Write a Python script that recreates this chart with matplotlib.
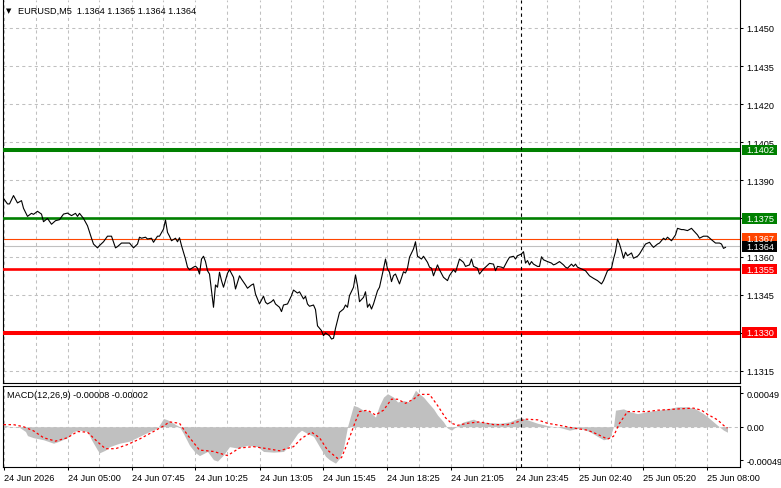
import numpy as np
import matplotlib
matplotlib.use("Agg")
import matplotlib.pyplot as plt
from matplotlib.patches import Rectangle
from matplotlib.transforms import blended_transform_factory

plt.rcParams['font.family'] = ['Liberation Sans', 'DejaVu Sans']

# ---------------- data ----------------
title_text = "EURUSD,M5  1.1364 1.1365 1.1364 1.1364"
macd_text = "MACD(12,26,9) -0.00008 -0.00002"

price_bar = [0, 2, 3, 5, 7, 9, 10, 12, 14, 15,
             17, 19, 20, 22, 24, 26, 28, 30, 32, 34,
             36, 37, 38, 40, 42, 44, 45, 47, 48, 50,
             52, 54, 56, 57, 59, 63, 65, 67, 68, 69,
             71, 72, 74, 75, 77, 78, 80, 81, 82, 83,
             84, 86, 87, 88, 89, 91, 92, 93, 95, 96,
             97, 98, 99, 100, 101, 102, 103, 105, 106, 107,
             108, 109, 110, 112, 113, 115, 116, 118, 119, 121,
             122, 124, 125, 126, 128, 130, 131, 132, 134, 135,
             136, 138, 139, 140, 142, 144, 145, 147, 148, 150,
             151, 152, 153, 155, 156, 157, 159, 160, 161, 163,
             164, 165, 166, 168, 170, 171, 172, 173, 175, 176,
             177, 178, 180, 181, 182, 183, 184, 185, 187, 188,
             190, 191, 192, 193, 194, 195, 196, 198, 200, 201,
             202, 203, 205, 206, 207, 209, 210, 212, 213, 214,
             215, 217, 218, 220, 222, 223, 225, 226, 228, 230,
             231, 233, 234, 235, 237, 238, 240, 241, 243, 245,
             246, 247, 249, 250, 252, 253, 255, 256, 257, 259,
             260, 261, 262, 263, 264, 265, 267, 268, 269, 270,
             272, 274, 275, 276, 278, 280, 281, 282, 284, 285,
             286, 287, 289, 291, 293, 295, 297, 299, 300, 301,
             302, 304, 305, 306, 307, 308, 309, 310, 311, 312,
             314, 315, 317, 318, 320, 321, 323, 324, 325, 327,
             328, 330, 331, 332, 334, 336, 337, 339, 340, 342,
             344, 345, 347, 348, 350, 352, 354, 356, 358, 359,
             360, 361]

price_close = [1.13829, 1.13807, 1.13807, 1.13840, 1.13811, 1.13820, 1.13790, 1.13758, 1.13770, 1.13766,
               1.13778, 1.13767, 1.13737, 1.13750, 1.13727, 1.13741, 1.13745, 1.13767, 1.13771, 1.13761,
               1.13770, 1.13758, 1.13770, 1.13750, 1.13721, 1.13672, 1.13649, 1.13634, 1.13643, 1.13658,
               1.13680, 1.13680, 1.13634, 1.13639, 1.13653, 1.13653, 1.13634, 1.13649, 1.13676, 1.13672,
               1.13676, 1.13669, 1.13672, 1.13656, 1.13680, 1.13680, 1.13708, 1.13744, 1.13695, 1.13680,
               1.13662, 1.13672, 1.13658, 1.13674, 1.13643, 1.13590, 1.13558, 1.13548, 1.13558, 1.13562,
               1.13554, 1.13531, 1.13590, 1.13601, 1.13580, 1.13544, 1.13531, 1.13400, 1.13488, 1.13479,
               1.13538, 1.13505, 1.13479, 1.13534, 1.13548, 1.13518, 1.13472, 1.13524, 1.13511, 1.13488,
               1.13475, 1.13488, 1.13492, 1.13452, 1.13413, 1.13444, 1.13420, 1.13413, 1.13422, 1.13430,
               1.13413, 1.13400, 1.13383, 1.13409, 1.13413, 1.13446, 1.13468, 1.13456, 1.13461, 1.13433,
               1.13443, 1.13413, 1.13404, 1.13409, 1.13391, 1.13327, 1.13308, 1.13288, 1.13299, 1.13288,
               1.13275, 1.13278, 1.13317, 1.13380, 1.13393, 1.13409, 1.13400, 1.13446, 1.13479, 1.13527,
               1.13485, 1.13422, 1.13439, 1.13461, 1.13400, 1.13413, 1.13393, 1.13413, 1.13465, 1.13479,
               1.13551, 1.13590, 1.13551, 1.13538, 1.13501, 1.13525, 1.13531, 1.13492, 1.13540, 1.13535,
               1.13554, 1.13597, 1.13630, 1.13658, 1.13601, 1.13590, 1.13601, 1.13577, 1.13558, 1.13554,
               1.13524, 1.13567, 1.13548, 1.13518, 1.13505, 1.13525, 1.13548, 1.13538, 1.13590, 1.13577,
               1.13561, 1.13567, 1.13590, 1.13561, 1.13554, 1.13531, 1.13551, 1.13558, 1.13573, 1.13570,
               1.13544, 1.13561, 1.13558, 1.13554, 1.13584, 1.13597, 1.13601, 1.13590, 1.13603, 1.13610,
               1.13619, 1.13574, 1.13584, 1.13567, 1.13580, 1.13570, 1.13561, 1.13561, 1.13599, 1.13587,
               1.13580, 1.13574, 1.13567, 1.13570, 1.13580, 1.13567, 1.13558, 1.13554, 1.13570, 1.13561,
               1.13570, 1.13558, 1.13551, 1.13544, 1.13524, 1.13514, 1.13505, 1.13492, 1.13505, 1.13524,
               1.13544, 1.13554, 1.13590, 1.13619, 1.13669, 1.13649, 1.13623, 1.13593, 1.13617, 1.13603,
               1.13614, 1.13593, 1.13601, 1.13610, 1.13636, 1.13649, 1.13656, 1.13645, 1.13636, 1.13649,
               1.13653, 1.13672, 1.13666, 1.13676, 1.13662, 1.13685, 1.13711, 1.13706, 1.13706, 1.13702,
               1.13711, 1.13702, 1.13685, 1.13672, 1.13680, 1.13680, 1.13666, 1.13653, 1.13653, 1.13649,
               1.13632, 1.13636]

hist_bar = [0, 3, 8, 11, 12, 15, 20, 25, 27, 32,
            35, 38, 42, 44, 47, 48, 51, 53, 58, 63,
            68, 73, 77, 80, 82, 85, 88, 90, 93, 96,
            98, 102, 105, 107, 110, 113, 117, 122, 127, 130,
            135, 140, 143, 147, 149, 152, 155, 158, 161, 163,
            166, 168, 170, 172, 175, 177, 180, 183, 186, 188,
            190, 192, 195, 197, 200, 203, 206, 207, 210, 212,
            215, 217, 220, 222, 224, 227, 230, 235, 238, 243,
            248, 253, 257, 259, 262, 267, 273, 278, 283, 288,
            293, 297, 300, 303, 305, 306, 310, 313, 317, 322,
            327, 332, 337, 342, 346, 350, 353, 357, 360, 362]
macd_hist = [0.00003, 0.0, -0.00001, -0.00007, -0.00013, -0.00016, -0.00019, -0.00024, -0.00022, -0.00016,
             -0.00007, -0.00005, -0.00007, -0.00019, -0.00034, -0.00038, -0.00034, -0.00029, -0.00024, -0.00021,
             -0.00014, -0.00007, -0.00002, 0.00012, 0.00010, 0.00005, 0.0, -0.00010, -0.00027, -0.00038,
             -0.00042, -0.00036, -0.00048, -0.00050, -0.00041, -0.00029, -0.00031, -0.00027, -0.00029, -0.00036,
             -0.00037, -0.00036, -0.00027, -0.00010, -0.00005, -0.00010, -0.00014, -0.00029, -0.00043, -0.00048,
             -0.00053, -0.00046, -0.00031, 0.0, 0.00031, 0.00029, 0.00024, 0.00022, 0.00014, 0.00031,
             0.00043, 0.00048, 0.00043, 0.00036, 0.00038, 0.00036, 0.00053, 0.00050, 0.00043, 0.00036,
             0.00026, 0.00017, 0.00007, -0.00002, -0.00005, 0.00002, 0.00007, 0.00011, 0.00007, 0.00006,
             0.00005, 0.00007, 0.00012, 0.00013, 0.00010, 0.00005, 0.00001, -0.00001, -0.00005, -0.00002,
             -0.00007, -0.00014, -0.00019, -0.00017, 0.0, 0.00024, 0.00026, 0.00022, 0.00019, 0.00022,
             0.00024, 0.00026, 0.00029, 0.00029, 0.00026, 0.00019, 0.00012, 0.00002, -0.00005, -0.00008]

signal_bar = [0, 5, 10, 15, 20, 26, 32, 37, 42, 47,
              51, 56, 62, 68, 75, 80, 83, 88, 92, 98,
              105, 112, 118, 125, 132, 138, 145, 149, 154, 158,
              162, 167, 169, 172, 176, 178, 182, 186, 190, 194,
              197, 201, 205, 208, 213, 217, 221, 224, 227, 232,
              238, 245, 252, 257, 261, 267, 272, 278, 285, 292,
              297, 302, 305, 308, 312, 317, 322, 327, 333, 338,
              345, 349, 352, 357, 360, 362]
macd_signal = [0.00003, 0.00003, 0.0, -0.00006, -0.00016, -0.00021, -0.00016, -0.00007, -0.00008, -0.00022,
               -0.00032, -0.00032, -0.00026, -0.00018, -0.00007, 0.00001, 0.00007, 0.00005, -0.00012, -0.00034,
               -0.00036, -0.00042, -0.00031, -0.00029, -0.00032, -0.00035, -0.00029, -0.00017, -0.00008, -0.00016,
               -0.00034, -0.00046, -0.00045, -0.00024, 0.00008, 0.00022, 0.00024, 0.00017, 0.00024, 0.00040,
               0.00040, 0.00034, 0.00040, 0.00047, 0.00047, 0.00031, 0.00013, 0.00005, 0.00002, 0.00005,
               0.00007, 0.00003, 0.00003, 0.00007, 0.00011, 0.00010, 0.00005, 0.00002, -0.00002, -0.00005,
               -0.00011, -0.00018, -0.00014, 0.00005, 0.00022, 0.00022, 0.00022, 0.00024, 0.00025, 0.00026,
               0.00027, 0.00024, 0.00018, 0.00010, 0.00002, -0.00002]

green_levels = [1.1402, 1.1375]
red_levels = [1.1355, 1.1330]
ask_level = 1.1367
bid_level = 1.1364
price_ticks = [1.1450, 1.1435, 1.1420, 1.1405, 1.1390, 1.1375, 1.1360, 1.1345, 1.1330, 1.1315]
macd_ticks = [0.00049, 0.0, -0.00049]
macd_tick_labels = ["0.00049", "0.00", "-0.00049"]
time_labels = ["24 Jun 2026", "24 Jun 05:00", "24 Jun 07:45", "24 Jun 10:25",
               "24 Jun 13:05", "24 Jun 15:45", "24 Jun 18:25", "24 Jun 21:05",
               "24 Jun 23:45", "25 Jun 02:40", "25 Jun 05:20", "25 Jun 08:00"]
time_label_bars = [0, 32, 64, 96, 128, 160, 192, 224, 256, 288, 320, 352]
grid_mid_bars = [16, 48, 80, 112, 144, 176, 208, 240, 272, 304, 336]
marker_bar = 259

# ---------------- layout ----------------
W, H = 781, 489
fig = plt.figure(figsize=(W / 100, H / 100), dpi=100)
fig.patch.set_facecolor("white")


def px_rect(x0, y0, x1, y1):
    return [x0 / W, 1 - y1 / H, (x1 - x0) / W, (y1 - y0) / H]


ax = fig.add_axes(px_rect(3, 1, 740, 384))
mx = fig.add_axes(px_rect(3, 387, 740, 468))

FS = 6.6
GRID = "#C0C0C0"
dash = (0, (3, 3))

for a in (ax, mx):
    a.set_xlim(-0.25, 368.25)
    for s in a.spines.values():
        s.set_linewidth(0.8)
        s.set_color("black")
    a.set_xticks(time_label_bars)
    a.set_xticks(grid_mid_bars, minor=True)
    a.grid(axis="x", which="both", color=GRID, linestyle=dash, linewidth=0.75)
    a.yaxis.tick_right()
    a.tick_params(axis="y", direction="out", length=2.3, width=0.75, pad=2.6,
                  labelsize=FS, colors="black")
    a.tick_params(axis="x", which="minor", length=0)
    a.set_axisbelow(True)
ax.spines["top"].set_visible(False)

# main panel
ymin, ymax = 1.131018, 1.146102
ax.set_ylim(ymin, ymax)
ax.set_yticks(price_ticks)
ax.set_yticklabels([f"{v:.4f}" for v in price_ticks])
ax.grid(axis="y", color=GRID, linestyle=dash, linewidth=0.75)
ax.tick_params(axis="x", which="major", length=0, labelbottom=False)

ax.axhline(bid_level, color="#C0C0C0", lw=0.8, zorder=2)
ax.axhline(ask_level, color="#FF4500", lw=0.8, zorder=2)
ax.axhline(green_levels[0], color="#008000", lw=2.9, zorder=3)
ax.axhline(green_levels[1], color="#008000", lw=1.9, zorder=3)
ax.axhline(red_levels[0], color="#FF0000", lw=1.9, zorder=3)
ax.axhline(red_levels[1], color="#FF0000", lw=2.9, zorder=3)

ax.plot(price_bar, price_close, color="black", lw=0.8, zorder=4)
ax.axvline(marker_bar, color="black", lw=0.8, linestyle=(0, (3, 3)), zorder=4)

# price tags on right axis
upp = (ymax - ymin) / 383.0
tr = blended_transform_factory(ax.transAxes, ax.transData)


def tag(value, fc, tc="white"):
    x0 = (741.5 - 3) / 737
    wdt = 35.5 / 737
    r = Rectangle((x0, value - 5.3 * upp), wdt, 10.6 * upp, transform=tr,
                  facecolor=fc, edgecolor="none", clip_on=False, zorder=6)
    ax.add_patch(r)
    ax.text((746 - 3) / 737, value, f"{value:.4f}", transform=tr, color=tc,
            fontsize=FS, va="center", ha="left", clip_on=False, zorder=7)


tag(green_levels[0], "#008000")
tag(green_levels[1], "#008000")
tag(ask_level, "#FF4500")
tag(bid_level, "#000000")
tag(red_levels[0], "#FF0000")
tag(red_levels[1], "#FF0000")

# MACD panel
mx.set_ylim(-0.000586, 0.000592)
mx.set_yticks(macd_ticks)
mx.set_yticklabels(macd_tick_labels)
mx.axhline(0, color=GRID, linestyle=dash, linewidth=0.75, zorder=1)
mx.fill_between(hist_bar, 0, macd_hist, color="#C0C0C0", linewidth=0, zorder=2)
mx.plot(signal_bar, macd_signal, color="#FF0000", lw=0.9, linestyle=(0, (2, 2)), zorder=3)
mx.axvline(marker_bar, color="black", lw=0.8, linestyle=(0, (3, 3)), zorder=4)
mx.set_xticklabels(time_labels)
mx.tick_params(axis="x", which="major", direction="out", length=2.5, width=0.75,
               pad=1.5, labelsize=FS, colors="black")
for lab in mx.get_xticklabels():
    lab.set_horizontalalignment("left")

# texts
fig.text(6 / W, 1 - 11 / H, "\u25BC", fontsize=5, family="DejaVu Sans",
         va="center", ha="left", color="black")
fig.text(18 / W, 1 - 11 / H, title_text, fontsize=FS, va="center", ha="left", color="black")
fig.text(7 / W, 1 - 396 / H, macd_text, fontsize=FS, va="center", ha="left", color="black")

fig.savefig("out.png", dpi=100, facecolor="white")
